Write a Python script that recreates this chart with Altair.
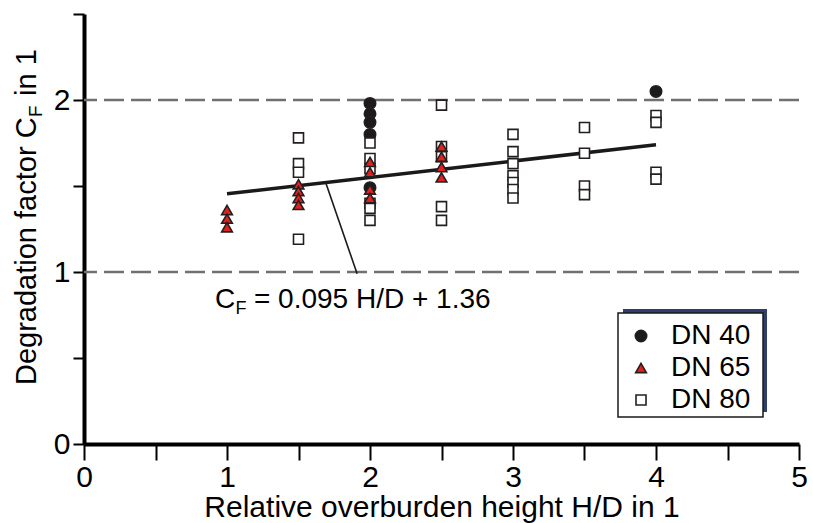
import altair as alt
import pandas as pd

FONT = "Liberation Sans"

# ---- data ----
dn40_x = [2, 2, 2, 2, 2, 4]
dn40_y = [1.98, 1.92, 1.87, 1.80, 1.49, 2.05]

dn65_x = [1, 1, 1, 1.5, 1.5, 1.5, 1.5, 2, 2, 2, 2, 2.5, 2.5, 2.5, 2.5]
dn65_y = [1.36, 1.31, 1.26, 1.51, 1.47, 1.43, 1.39, 1.64, 1.58, 1.48, 1.43,
          1.73, 1.67, 1.61, 1.55]

dn80_x = [1.5, 1.5, 1.5, 1.5,
          2, 2, 2, 2, 2, 2,
          2.5, 2.5, 2.5, 2.5, 2.5,
          3, 3, 3, 3, 3, 3, 3,
          3.5, 3.5, 3.5, 3.5,
          4, 4, 4, 4]
dn80_y = [1.78, 1.63, 1.58, 1.19,
          1.75, 1.66, 1.60, 1.40, 1.37, 1.30,
          1.97, 1.73, 1.67, 1.38, 1.30,
          1.80, 1.70, 1.63, 1.56, 1.52, 1.48, 1.43,
          1.84, 1.69, 1.50, 1.45,
          1.91, 1.87, 1.58, 1.54]

series_names = ["DN 40", "DN 65", "DN 80"]
series_shapes = ["circle", "triangle-up", "square"]
series_fills = ["#1c1a1a", "#e3201e", "#ffffff"]
series_sizes = [130, 100, 92]

reg_x = [1, 4]
reg_y = [1.455, 1.74]

lead_x = [1.69, 1.91]
lead_y = [1.52, 0.99]

grid_y = [1, 2]

ann_x = [0.916]
ann_y = [0.79]

x_ticks = [0, 0.5, 1, 1.5, 2, 2.5, 3, 3.5, 4, 4.5, 5]
y_ticks = [0, 0.5, 1, 1.5, 2, 2.5]

# drawing order: circles, squares, triangles on top
pts = pd.concat([
    pd.DataFrame({"x": dn40_x, "y": dn40_y, "s": ["DN 40"] * len(dn40_x)}),
    pd.DataFrame({"x": dn80_x, "y": dn80_y, "s": ["DN 80"] * len(dn80_x)}),
    pd.DataFrame({"x": dn65_x, "y": dn65_y, "s": ["DN 65"] * len(dn65_x)}),
], ignore_index=True)

xscale = alt.Scale(domain=[0, 5], nice=False, zero=False)
yscale = alt.Scale(domain=[0, 2.5], nice=False, zero=False)

label_expr = "datum.value % 1 === 0 ? '' + datum.value : ''"

axis_common = dict(labelFont=FONT, titleFont=FONT, labelFontSize=30, titleFontSize=30,
                   labelColor="black", titleColor="black", titleFontWeight="normal",
                   domainColor="black", domainWidth=4, tickColor="black", tickWidth=2,
                   labelFlush=False, labelOverlap=False, grid=False)

x_axis = alt.Axis(values=x_ticks, labelExpr=label_expr, title="Relative overburden height H/D in 1",
                  tickSize=16, labelPadding=2, titlePadding=0, **axis_common)
y_axis = alt.Axis(values=y_ticks, labelExpr=label_expr, title=None,
                  tickSize=11, labelPadding=3, **axis_common)

grid = alt.Chart(pd.DataFrame({"y": grid_y})).mark_rule(
    color="#707070", strokeWidth=2.5, strokeDash=[20, 7]
).encode(y=alt.Y("y:Q", scale=yscale, axis=y_axis))

reg = alt.Chart(pd.DataFrame({"x": reg_x, "y": reg_y})).mark_line(
    color="#1a1a1a", strokeWidth=3.5
).encode(x=alt.X("x:Q", scale=xscale, axis=x_axis), y=alt.Y("y:Q", scale=yscale))

lead = alt.Chart(pd.DataFrame({"x": lead_x, "y": lead_y})).mark_line(
    color="#1a1a1a", strokeWidth=1.6
).encode(x=alt.X("x:Q", scale=xscale), y=alt.Y("y:Q", scale=yscale))

# legend box (shadow + white box)
shadow = alt.Chart(pd.DataFrame({"a": [0]})).mark_rect(color="#2f3f6b").encode(
    x=alt.value(539), x2=alt.value(683), y=alt.value(295), y2=alt.value(398))
box = alt.Chart(pd.DataFrame({"a": [0]})).mark_rect(
    fill="white", stroke="#1a1a1a", strokeWidth=1.5).encode(
    x=alt.value(534), x2=alt.value(679), y=alt.value(299), y2=alt.value(403))

points = alt.Chart(pts).mark_point(
    filled=True, stroke="#231f20", strokeWidth=1.6, opacity=1
).encode(
    x=alt.X("x:Q", scale=xscale),
    y=alt.Y("y:Q", scale=yscale),
    shape=alt.Shape("s:N", scale=alt.Scale(domain=series_names, range=series_shapes),
                    legend=alt.Legend(title=None, orient="none", legendX=543, legendY=308,
                                      labelFont=FONT, labelFontSize=28, labelColor="black",
                                      labelOffset=16, rowPadding=4, padding=0,
                                      symbolStrokeColor="#231f20", symbolStrokeWidth=1.6)),
    fill=alt.Fill("s:N", scale=alt.Scale(domain=series_names, range=series_fills)),
    size=alt.Size("s:N", scale=alt.Scale(domain=series_names, range=series_sizes)),
)

ann_df = pd.DataFrame({"x": ann_x, "y": ann_y})
ann_c = alt.Chart(ann_df).mark_text(text="C", font=FONT, fontSize=28, align="left",
                                    baseline="alphabetic", color="black").encode(
    x=alt.X("x:Q", scale=xscale), y=alt.Y("y:Q", scale=yscale))
ann_f = alt.Chart(ann_df).mark_text(text="F", font=FONT, fontSize=18, align="left",
                                    baseline="alphabetic", color="black", dx=20.5, dy=6).encode(
    x=alt.X("x:Q", scale=xscale), y=alt.Y("y:Q", scale=yscale))
ann_r = alt.Chart(ann_df).mark_text(text="= 0.095 H/D + 1.36", font=FONT, fontSize=28,
                                    align="left", baseline="alphabetic", color="black",
                                    dx=39).encode(
    x=alt.X("x:Q", scale=xscale), y=alt.Y("y:Q", scale=yscale))

# y-axis title with subscript, rotated
one = pd.DataFrame({"a": [0]})
yt1 = alt.Chart(one).mark_text(text="Degradation factor C", font=FONT, fontSize=29, angle=270,
                               align="left", baseline="alphabetic", color="black").encode(
    x=alt.value(-48), y=alt.value(371))
yt2 = alt.Chart(one).mark_text(text="F", font=FONT, fontSize=19, angle=270,
                               align="left", baseline="alphabetic", color="black").encode(
    x=alt.value(-42), y=alt.value(103))
yt3 = alt.Chart(one).mark_text(text="in 1", font=FONT, fontSize=29, angle=270,
                               align="left", baseline="alphabetic", color="black").encode(
    x=alt.value(-48), y=alt.value(82))

chart = alt.layer(
    grid, reg, lead, shadow, box, points, ann_c, ann_f, ann_r, yt1, yt2, yt3
).properties(
    width=715, height=430,
    background="white",
    autosize=alt.AutoSizeParams(type="none"),
    padding={"left": 84, "top": 14, "right": 14, "bottom": 79},
).configure_view(stroke=None)

chart.save("out.html", embed_options={"renderer": "svg", "actions": False})
